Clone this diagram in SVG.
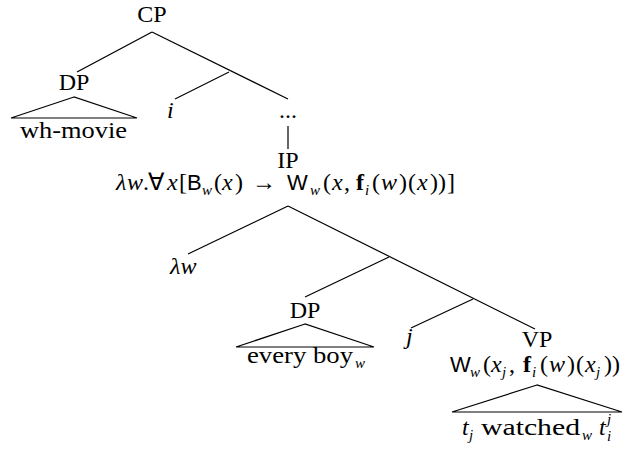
<svg xmlns="http://www.w3.org/2000/svg" width="626" height="452" viewBox="0 0 626 452">
<style>
text{font-family:"Liberation Serif","Times New Roman",serif;font-size:24px;fill:#000}
.it{font-style:italic}
.sf{font-family:"Liberation Sans",Arial,sans-serif;font-size:22px}
.sub{font-size:15px;font-style:italic}
.bf{font-weight:bold}
line,polygon{stroke:#000;stroke-width:1.2;fill:none}
</style>
<rect width="626" height="452" fill="#fff"/>
<g id="connectors">
<line x1="152" y1="32" x2="77" y2="72"/>
<line x1="152" y1="32" x2="288" y2="99"/>
<line x1="229" y1="72" x2="175" y2="99"/>
<line x1="288" y1="126" x2="288" y2="149"/>
<line x1="288" y1="206" x2="188" y2="254"/>
<line x1="288" y1="206" x2="535" y2="329"/>
<line x1="389" y1="257" x2="305" y2="297"/>
<line x1="473" y1="299" x2="411" y2="328"/>
</g>
<g id="CP"><text x="152" y="22" text-anchor="middle">CP</text></g>
<g id="DP1">
<text x="74" y="90" text-anchor="middle">DP</text>
<polygon points="74,97 11,118 137,118"/>
<text x="20" y="138" textLength="107" lengthAdjust="spacingAndGlyphs">wh-movie</text>
</g>
<g id="i"><text class="it" x="167" y="118">i</text></g>
<g id="dots"><text x="288" y="118" text-anchor="middle">...</text></g>
<g id="IP">
<text x="288" y="168" text-anchor="middle">IP</text>
<text y="190"><tspan class="it" x="116">λ</tspan><tspan class="it" x="127">w</tspan><tspan x="143">.</tspan><tspan x="148">∀</tspan><tspan class="it" x="167">x</tspan><tspan x="179">[</tspan><tspan class="sf" x="187">B</tspan><tspan class="sub" x="202" dy="5">w</tspan><tspan x="214" dy="-5">(</tspan><tspan class="it" x="222">x</tspan><tspan x="235">)</tspan><tspan x="252">→</tspan><tspan class="sf" x="287">W</tspan><tspan class="sub" x="310" dy="5">w</tspan><tspan x="323" dy="-5">(</tspan><tspan class="it" x="332">x</tspan><tspan x="344">,</tspan><tspan class="bf" x="356">f</tspan><tspan class="sub" x="365" dy="5">i</tspan><tspan x="372" dy="-5">(</tspan><tspan class="it" x="381">w</tspan><tspan x="399">)</tspan><tspan x="408">(</tspan><tspan class="it" x="417">x</tspan><tspan x="430">)</tspan><tspan x="438">)</tspan><tspan x="447">]</tspan></text>
</g>
<g id="lw"><text class="it" x="170" y="274">λw</text></g>
<g id="DP2">
<text x="305" y="318" text-anchor="middle">DP</text>
<polygon points="305,324 236,347 374,347"/>
<text y="363"><tspan x="247" textLength="106" lengthAdjust="spacingAndGlyphs">every boy</tspan><tspan class="sub" x="355" dy="5">w</tspan></text>
</g>
<g id="j"><text class="it" x="406" y="344">j</text></g>
<g id="VP">
<text x="537" y="347" text-anchor="middle">VP</text>
<text y="372"><tspan class="sf" x="450">W</tspan><tspan class="sub" x="470" dy="5">w</tspan><tspan x="483" dy="-5">(</tspan><tspan class="it" x="491">x</tspan><tspan class="sub" x="502" dy="5">j</tspan><tspan x="509" dy="-5">,</tspan><tspan class="bf" x="523">f</tspan><tspan class="sub" x="532" dy="5">i</tspan><tspan x="540" dy="-5">(</tspan><tspan class="it" x="549">w</tspan><tspan x="567">)</tspan><tspan x="576">(</tspan><tspan class="it" x="585">x</tspan><tspan class="sub" x="596" dy="5">j</tspan><tspan x="604" dy="-5">)</tspan><tspan x="612">)</tspan></text>
<polygon points="537,385 452,412 622,412"/>
<text y="435"><tspan class="it" x="462">t</tspan><tspan class="sub" x="469" dy="5">j</tspan><tspan x="481" dy="-5" textLength="99" lengthAdjust="spacingAndGlyphs">watched</tspan><tspan class="sub" x="582" dy="5">w</tspan><tspan class="it" x="599" dy="-5">t</tspan><tspan class="sub" x="607" dy="-11">j</tspan><tspan class="sub" x="607" dy="17">i</tspan></text>
</g>
</svg>
